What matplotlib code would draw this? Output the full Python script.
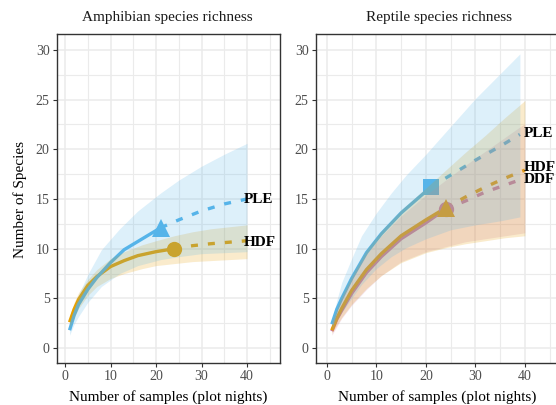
import matplotlib
matplotlib.use("Agg")
import matplotlib.pyplot as plt
from matplotlib.ticker import MultipleLocator

# ---------------- data ----------------
# Amphibian panel
amph_hdf_obs_x = [1, 2, 3, 5, 7, 10, 13, 16, 20, 24]
amph_hdf_obs_y = [2.6, 3.9, 4.9, 6.3, 7.2, 8.2, 8.8, 9.3, 9.7, 10.0]
amph_hdf_ext_x = [24, 28, 32, 36, 40]
amph_hdf_ext_y = [10.0, 10.3, 10.5, 10.65, 10.8]
amph_hdf_ci_x = [1, 2, 3, 5, 7, 10, 13, 17, 20, 24, 28, 32, 36, 40]
amph_hdf_lo = [2.0, 3.1, 4.0, 5.3, 6.2, 7.0, 7.5, 8.0, 8.3, 8.5, 8.7, 8.8, 8.9, 9.0]
amph_hdf_hi = [3.2, 4.6, 5.6, 6.9, 7.9, 9.0, 9.7, 10.4, 10.8, 11.3, 11.7, 12.0, 12.2, 12.4]

amph_ple_obs_x = [1, 2, 3, 5, 7, 10, 13, 17, 21]
amph_ple_obs_y = [1.8, 3.3, 4.4, 5.9, 7.1, 8.6, 9.9, 11.0, 12.1]
amph_ple_ext_x = [21, 25, 30, 35, 40]
amph_ple_ext_y = [12.1, 12.9, 13.8, 14.5, 15.0]
amph_ple_ci_x = [1, 2, 3, 5, 8, 12, 16, 21, 25, 30, 35, 40]
amph_ple_lo = [1.3, 2.4, 3.2, 4.6, 6.2, 7.5, 8.3, 8.9, 9.2, 9.5, 9.6, 9.7]
amph_ple_hi = [2.2, 4.0, 5.4, 7.4, 9.9, 12.0, 13.8, 15.6, 16.9, 18.3, 19.5, 20.6]

# Reptile panel
rept_ple_obs_x = [1, 2, 3, 5, 8, 11, 15, 18, 21]
rept_ple_obs_y = [2.4, 3.9, 5.0, 7.0, 9.6, 11.5, 13.6, 14.9, 16.2]
rept_ple_ext_x = [21, 26, 30, 35, 39]
rept_ple_ext_y = [16.2, 17.7, 18.9, 20.3, 21.5]
rept_ple_ci_x = [1, 2, 3, 5, 7, 10, 13, 16, 20, 25, 30, 35, 39]
rept_ple_lo = [1.8, 2.8, 3.6, 5.0, 6.4, 8.0, 9.2, 10.1, 11.0, 11.9, 12.4, 12.8, 13.2]
rept_ple_hi = [2.6, 4.8, 6.6, 9.0, 11.3, 13.6, 15.6, 17.4, 19.5, 22.3, 25.1, 27.6, 29.6]

rept_hdf_obs_x = [1, 2, 3, 5, 8, 11, 15, 20, 24]
rept_hdf_obs_y = [1.8, 3.0, 4.0, 5.8, 7.9, 9.5, 11.3, 12.9, 14.1]
rept_hdf_ext_x = [24, 28, 32, 36, 40]
rept_hdf_ext_y = [14.1, 15.2, 16.2, 17.1, 17.9]
rept_hdf_ci_x = [1, 3, 5, 8, 11, 15, 20, 24, 28, 32, 36, 40]
rept_hdf_lo = [1.5, 3.1, 4.4, 6.0, 7.3, 8.6, 9.6, 10.1, 10.5, 10.8, 11.1, 11.3]
rept_hdf_hi = [2.7, 5.3, 7.3, 9.9, 11.8, 13.9, 16.1, 17.9, 19.7, 21.4, 23.2, 24.9]

rept_ddf_obs_x = [1, 2, 3, 5, 8, 11, 15, 20, 24]
rept_ddf_obs_y = [1.7, 2.9, 3.8, 5.5, 7.6, 9.2, 11.0, 12.6, 14.0]
rept_ddf_ext_x = [24, 28, 32, 36, 40]
rept_ddf_ext_y = [14.0, 14.8, 15.7, 16.4, 17.1]
rept_ddf_ci_x = [1, 3, 5, 8, 11, 15, 20, 24, 28, 32, 36, 40]
rept_ddf_lo = [1.3, 3.0, 4.3, 5.9, 7.3, 8.7, 9.7, 10.2, 10.7, 11.0, 11.3, 11.6]
rept_ddf_hi = [2.5, 5.0, 7.0, 9.5, 11.3, 13.3, 15.4, 16.9, 18.4, 19.8, 21.2, 22.6]

amph_labels = ["PLE", "HDF"]
amph_label_y = [14.9, 10.65]
rept_labels = ["PLE", "HDF", "DDF"]
rept_label_y = [21.6, 18.2, 17.0]

titles = ["Amphibian species richness", "Reptile species richness"]
xlabel = "Number of samples (plot nights)"
ylabel = "Number of Species"
xticks = [0, 10, 20, 30, 40]
yticks = [0, 5, 10, 15, 20, 25, 30]

# ---------------- style ----------------
BLUE = "#56B4E9"
GOLD = "#E69F00"
PINK = "#CC79A7"
SERIF = "Liberation Serif"

W, H = 556, 405
fig = plt.figure(figsize=(W / 100, H / 100), dpi=100)
fig.patch.set_facecolor("white")


def px_axes(x0, x1, y0, y1):
    return fig.add_axes([x0 / W, 1 - y1 / H, (x1 - x0) / W, (y1 - y0) / H])


axL = px_axes(57, 280, 34, 363)
axR = px_axes(316, 559, 34, 363)
axL.set_xlim(-1.76, 47.25)
axR.set_xlim(-2.2, 46.9)


def style(ax):
    ax.set_ylim(-1.5, 31.6)
    ax.set_xticks(xticks)
    ax.set_yticks(yticks)
    ax.xaxis.set_minor_locator(MultipleLocator(5))
    ax.yaxis.set_minor_locator(MultipleLocator(2.5))
    ax.grid(which="major", color="#EBEBEB", lw=1.1)
    ax.grid(which="minor", color="#EBEBEB", lw=0.8)
    ax.set_axisbelow(True)
    for s in ax.spines.values():
        s.set_color("#333333")
        s.set_linewidth(1.0)
    ax.tick_params(which="major", direction="out", length=2.8, width=0.8,
                   color="#333333", labelcolor="#4D4D4D", labelsize=10, pad=2.5)
    ax.tick_params(which="minor", length=0)
    for lab in ax.get_xticklabels() + ax.get_yticklabels():
        lab.set_family(SERIF)


style(axL)
style(axR)

LW = 2.4
DASH = (2.1, 3.0)


def draw_lines(ax, ox, oy, ex, ey, color, marker, ms):
    ax.plot(ox, oy, color=color, lw=LW, solid_capstyle="butt", zorder=2)
    ax.plot(ex, ey, color=color, lw=LW, dashes=DASH, dash_capstyle="butt", zorder=2)
    ax.plot([ox[-1]], [oy[-1]], marker=marker, ms=ms, color=color,
            markeredgewidth=0, linestyle="none", zorder=2.5)


def draw_ribbon(ax, cx, lo, hi, color):
    ax.fill_between(cx, lo, hi, color=color, alpha=0.2, lw=0, zorder=3)


# Amphibian
draw_lines(axL, amph_hdf_obs_x, amph_hdf_obs_y, amph_hdf_ext_x, amph_hdf_ext_y, GOLD, "o", 11)
draw_lines(axL, amph_ple_obs_x, amph_ple_obs_y, amph_ple_ext_x, amph_ple_ext_y, BLUE, "^", 12.5)
draw_ribbon(axL, amph_hdf_ci_x, amph_hdf_lo, amph_hdf_hi, GOLD)
draw_ribbon(axL, amph_ple_ci_x, amph_ple_lo, amph_ple_hi, BLUE)

# Reptile
draw_lines(axR, rept_ddf_obs_x, rept_ddf_obs_y, rept_ddf_ext_x, rept_ddf_ext_y, PINK, "o", 11)
draw_lines(axR, rept_hdf_obs_x, rept_hdf_obs_y, rept_hdf_ext_x, rept_hdf_ext_y, GOLD, "^", 12.5)
draw_lines(axR, rept_ple_obs_x, rept_ple_obs_y, rept_ple_ext_x, rept_ple_ext_y, BLUE, "s", 11)
draw_ribbon(axR, rept_ddf_ci_x, rept_ddf_lo, rept_ddf_hi, PINK)
draw_ribbon(axR, rept_hdf_ci_x, rept_hdf_lo, rept_hdf_hi, GOLD)
draw_ribbon(axR, rept_ple_ci_x, rept_ple_lo, rept_ple_hi, BLUE)

for lab, y in zip(amph_labels, amph_label_y):
    axL.text(39.2, y, lab, family=SERIF, fontweight="bold", fontsize=11,
             ha="left", va="center", color="black", zorder=5)
for lab, y in zip(rept_labels, rept_label_y):
    axR.text(39.8, y, lab, family=SERIF, fontweight="bold", fontsize=11,
             ha="left", va="center", color="black", zorder=5)

# titles and axis labels
fig.text(167 / W, 1 - 17 / H, titles[0], family=SERIF, fontsize=11,
         ha="center", va="center", color="#1A1A1A")
fig.text(439 / W, 1 - 17 / H, titles[1], family=SERIF, fontsize=11,
         ha="center", va="center", color="#1A1A1A")
fig.text(168 / W, 1 - 397 / H, xlabel, family=SERIF, fontsize=11,
         ha="center", va="center", color="black")
fig.text(437.5 / W, 1 - 397 / H, xlabel, family=SERIF, fontsize=11,
         ha="center", va="center", color="black")
fig.text(20 / W, 1 - 199 / H, ylabel, family=SERIF, fontsize=11,
         ha="center", va="center", rotation=90, color="black")

fig.savefig("out.png", dpi=100)
